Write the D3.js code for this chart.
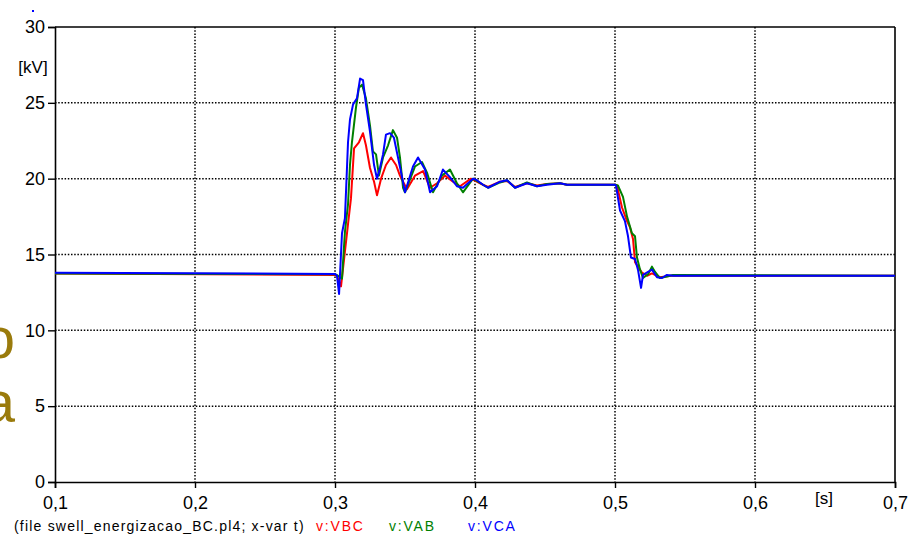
<!DOCTYPE html>
<html><head><meta charset="utf-8">
<script src="https://cdn.jsdelivr.net/npm/d3@7"></script>
<style>
html,body{margin:0;padding:0;background:#fff;overflow:hidden;}
svg{display:block;font-family:"Liberation Sans",Arial,sans-serif;}
</style></head>
<body>
<svg id="chart" width="920" height="537"></svg>
<script>
// ---- data ----
const xTicks = [0.1, 0.2, 0.3, 0.4, 0.5, 0.6, 0.7];
const yTicks = [0, 5, 10, 15, 20, 25, 30];
const seriesNames = ["v:VBC", "v:VAB", "v:VCA"];
const seriesColors = ["#ff0000", "#008000", "#0000ff"];

const tVBC = [0.1,0.3,0.3014,0.3043,0.3071,0.3093,0.3114,0.3136,0.3171,0.32,0.3221,0.325,0.3279,0.33,0.3329,0.3364,0.34,0.3436,0.3464,0.3514,0.3571,0.3629,0.3679,0.3729,0.3786,0.3843,0.3893,0.3971,0.4057,0.4093,0.4179,0.4229,0.4286,0.4371,0.4443,0.4514,0.4607,0.4657,0.5,0.5014,0.505,0.5086,0.5107,0.5129,0.5143,0.5164,0.5193,0.5229,0.5264,0.5321,0.54,0.7];
const vVBC = [13.75,13.65,13.6,12.9,15.2,17.0,18.7,22.0,22.4,23.0,22.2,20.7,19.8,18.9,20.0,20.9,21.4,20.9,20.2,19.3,20.2,20.5,19.4,19.7,20.2,19.8,19.5,20.0,19.6,19.45,19.8,19.85,19.45,19.7,19.55,19.65,19.7,19.6,19.6,19.55,18.1,17.2,16.8,16.0,14.5,14.2,13.8,13.6,13.75,13.5,13.6,13.6];

const tVAB = [0.1,0.3,0.3021,0.305,0.3071,0.3093,0.3107,0.3121,0.315,0.3171,0.3193,0.3221,0.325,0.3271,0.3293,0.3314,0.3343,0.3379,0.3414,0.3443,0.3464,0.3486,0.35,0.3571,0.3621,0.3657,0.37,0.3764,0.3821,0.3871,0.3914,0.3986,0.4057,0.4093,0.4179,0.4229,0.4286,0.4371,0.4443,0.4514,0.4607,0.4657,0.5,0.5021,0.5057,0.5086,0.5121,0.5143,0.5157,0.5179,0.52,0.5236,0.5264,0.5286,0.5321,0.5371,0.5414,0.7];
const vVAB = [13.75,13.7,13.6,13.4,16.5,18.3,20.9,22.4,24.7,26.0,26.2,25.3,23.5,21.8,21.6,20.2,21.4,22.2,23.2,22.7,21.4,19.4,19.1,20.8,21.1,20.4,19.1,20.2,20.6,19.7,19.1,20.0,19.6,19.4,19.75,19.9,19.4,19.75,19.5,19.65,19.7,19.6,19.6,19.55,18.8,17.5,16.4,16.2,14.8,14.0,13.45,13.7,14.2,13.85,13.45,13.55,13.65,13.6];

const tVCA = [0.1,0.3,0.3014,0.3029,0.305,0.3071,0.3093,0.3107,0.3129,0.3157,0.3179,0.32,0.3221,0.325,0.3279,0.33,0.3321,0.3343,0.3364,0.3393,0.3421,0.345,0.3479,0.35,0.3557,0.3593,0.3643,0.3679,0.3729,0.3771,0.3821,0.3871,0.3914,0.3986,0.4014,0.4057,0.4093,0.4179,0.4229,0.4286,0.4371,0.4443,0.4514,0.4607,0.4657,0.5,0.5007,0.5036,0.5071,0.5093,0.5114,0.5143,0.5164,0.5186,0.52,0.5236,0.5264,0.53,0.5336,0.5371,0.5414,0.7];
const vVCA = [13.8,13.72,13.6,12.4,16.4,17.4,22.4,23.9,24.9,25.3,26.6,26.5,24.9,23.1,20.9,20.0,20.7,21.6,22.9,23.0,22.7,21.4,20.1,19.1,20.8,21.4,20.6,19.1,19.5,20.6,20.1,19.5,19.4,20.0,19.9,19.6,19.4,19.8,19.9,19.4,19.7,19.5,19.6,19.7,19.6,19.6,19.55,17.9,17.2,16.2,14.8,14.7,14.0,12.8,13.65,13.85,14.0,13.5,13.45,13.65,13.6,13.6];

const seriesT = [tVBC, tVAB, tVCA];
const seriesV = [vVBC, vVAB, vVCA];

// ---- layout ----
const svg = d3.select("#chart");
const L = 55, R = 895, T = 27, B = 482;
const x = d3.scaleLinear().domain([0.1, 0.7]).range([L, R]);
const y = d3.scaleLinear().domain([0, 30]).range([B, T]);
const fmt = d => d3.format(".1f")(d).replace(".", ",");

// background slide remnants (partially outside the picture, as in the reference)
svg.append("text").attr("x", 15).attr("y", 358).attr("text-anchor", "end")
  .attr("font-size", 58).attr("fill", "#9a7b0c").text("o");
svg.append("text").attr("x", 15).attr("y", 422).attr("text-anchor", "end")
  .attr("font-size", 58).attr("fill", "#9a7b0c").text("a");
svg.append("rect").attr("x", 32).attr("y", 10).attr("width", 2).attr("height", 2).attr("fill", "#0000ff");

// gridlines
const grid = svg.append("g");
grid.selectAll(".gx").data(xTicks.slice(1, -1)).enter().append("line")
  .attr("x1", d => x(d)).attr("x2", d => x(d)).attr("y1", T).attr("y2", B)
  .attr("stroke", "#000").attr("stroke-width", 1.5).attr("stroke-dasharray", "1.5,1.7");
grid.selectAll(".gy").data(yTicks.slice(1, -1)).enter().append("line")
  .attr("x1", L).attr("x2", R).attr("y1", d => y(d)).attr("y2", d => y(d))
  .attr("stroke", "#000").attr("stroke-width", 1.5).attr("stroke-dasharray", "1.5,1.7");

// axes
const yAxis = d3.axisLeft(y).tickValues(yTicks).tickSize(7).tickPadding(3).tickFormat(d3.format("d"));
const gy = svg.append("g").attr("transform", `translate(${L},0)`).call(yAxis);
gy.select(".domain").attr("stroke-width", 1.6);
gy.selectAll(".tick line").attr("stroke-width", 1.4);
gy.selectAll("text").attr("font-size", 18).attr("font-family", "Liberation Sans, Arial, sans-serif").attr("fill", "#000");

const xAxis = d3.axisBottom(x).tickValues(xTicks).tickSize(6).tickPadding(8).tickFormat(fmt);
const gx = svg.append("g").attr("transform", `translate(0,${B})`).call(xAxis);
gx.select(".domain").attr("stroke-width", 1.6);
gx.selectAll(".tick line").attr("stroke-width", 1.4);
gx.selectAll("text").attr("font-size", 18).attr("font-family", "Liberation Sans, Arial, sans-serif").attr("fill", "#000");

// frame top/right
svg.append("line").attr("x1", L).attr("x2", R).attr("y1", T).attr("y2", T).attr("stroke", "#000").attr("stroke-width", 1.6);
svg.append("line").attr("x1", R).attr("x2", R).attr("y1", T).attr("y2", B).attr("stroke", "#000").attr("stroke-width", 1.6);

// axis labels
svg.append("text").attr("x", 33).attr("y", 73).attr("text-anchor", "middle").attr("font-size", 17).text("[kV]");
svg.append("text").attr("x", 824).attr("y", 504).attr("text-anchor", "middle").attr("font-size", 17).text("[s]");

// series
const line = d3.line().x(d => x(d[0])).y(d => y(d[1]));
seriesNames.forEach((n, i) => {
  const pts = seriesT[i].map((t, k) => [t, seriesV[i][k]]);
  svg.append("path").datum(pts).attr("d", line).attr("fill", "none")
    .attr("stroke", seriesColors[i]).attr("stroke-width", 2).attr("stroke-linejoin", "round");
});

// legend line
svg.append("text").attr("x", 14).attr("y", 531).attr("font-size", 14).attr("letter-spacing", 1.2)
  .text("(file swell_energizacao_BC.pl4; x-var t)");
const legX = [316, 389, 468];
seriesNames.forEach((n, i) => {
  svg.append("text").attr("x", legX[i]).attr("y", 531).attr("font-size", 14).attr("letter-spacing", 1.8)
    .attr("fill", seriesColors[i]).text(n);
});
</script>
</body></html>
